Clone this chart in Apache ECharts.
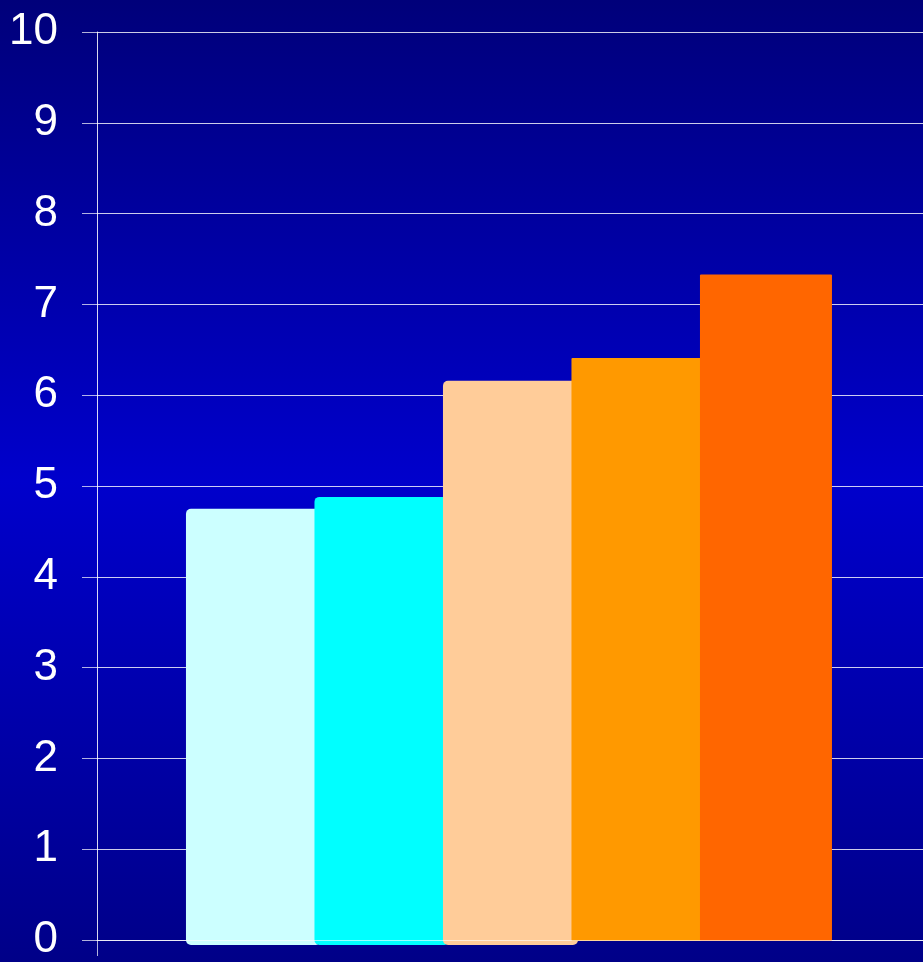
<!DOCTYPE html>
<html>
<head>
<meta charset="utf-8">
<script src="https://cdn.jsdelivr.net/npm/echarts@6/dist/echarts.min.js"></script>
<style>
  html, body { margin: 0; padding: 0; }
  #chart { width: 923px; height: 962px; }
</style>
</head>
<body>
<div id="chart"></div>
<script>
// Bar values, one per column, left to right
const values = [4.75, 4.88, 6.16, 6.41, 7.33];
const barColors = ['#CCFFFF', '#00FFFF', '#FFCC99', '#FF9900', '#FF6600'];
const yTicks = [0, 1, 2, 3, 4, 5, 6, 7, 8, 9, 10];

const chart = echarts.init(document.getElementById('chart'));

// columns sit at positions 1..5 on a hidden value axis
const barData = values.map((v, i) => [i + 1, v]);

chart.setOption({
  animation: false,
  backgroundColor: {
    type: 'linear', x: 0, y: 0, x2: 0, y2: 1,
    colorStops: [
      { offset: 0, color: '#00007A' },
      { offset: 0.5, color: '#0000CC' },
      { offset: 1, color: '#000088' }
    ]
  },
  grid: { left: 97, right: 0, top: 32, bottom: 20, containLabel: false },
  xAxis: [
    { type: 'value', show: false, min: -0.206, max: 6.222 },
    {
      type: 'category', data: [''], position: 'bottom', boundaryGap: true, z: 10,
      axisLine: { show: true, lineStyle: { color: 'rgba(255,255,255,0.6)', width: 1 } },
      axisTick: { show: true, length: 16, lineStyle: { color: 'rgba(255,255,255,0.7)', width: 1 } },
      axisLabel: { show: false },
      splitLine: { show: false }
    }
  ],
  yAxis: {
    type: 'value', min: yTicks[0], max: yTicks[yTicks.length - 1], interval: 1,
    axisLine: { show: true, onZero: false, lineStyle: { color: 'rgba(255,255,255,0.85)', width: 1 } },
    axisTick: { show: true, length: 15, lineStyle: { color: 'rgba(255,255,255,0.7)', width: 1 } },
    axisLabel: {
      color: '#ffffff', fontSize: 44, margin: 39,
      fontFamily: 'Liberation Sans, Arial, sans-serif'
    },
    splitLine: { show: true, lineStyle: { color: 'rgba(255,255,255,0.8)', width: 1 } }
  },
  series: [{
    type: 'custom',
    xAxisIndex: 0,
    clip: false,
    data: barData,
    renderItem: function (params, api) {
      const i = params.dataIndex;
      const top = api.coord([api.value(0), api.value(1)]);
      const base = api.coord([api.value(0), 0]);
      const soft = i < 3;
      const w = soft ? 135 : 132;
      const ext = soft ? 5 : 1;
      return {
        type: 'rect',
        shape: {
          x: top[0] - 66, y: top[1],
          width: w, height: base[1] - top[1] + ext,
          r: soft ? 5 : 1
        },
        style: { fill: barColors[i] }
      };
    }
  }]
});
</script>
</body>
</html>
